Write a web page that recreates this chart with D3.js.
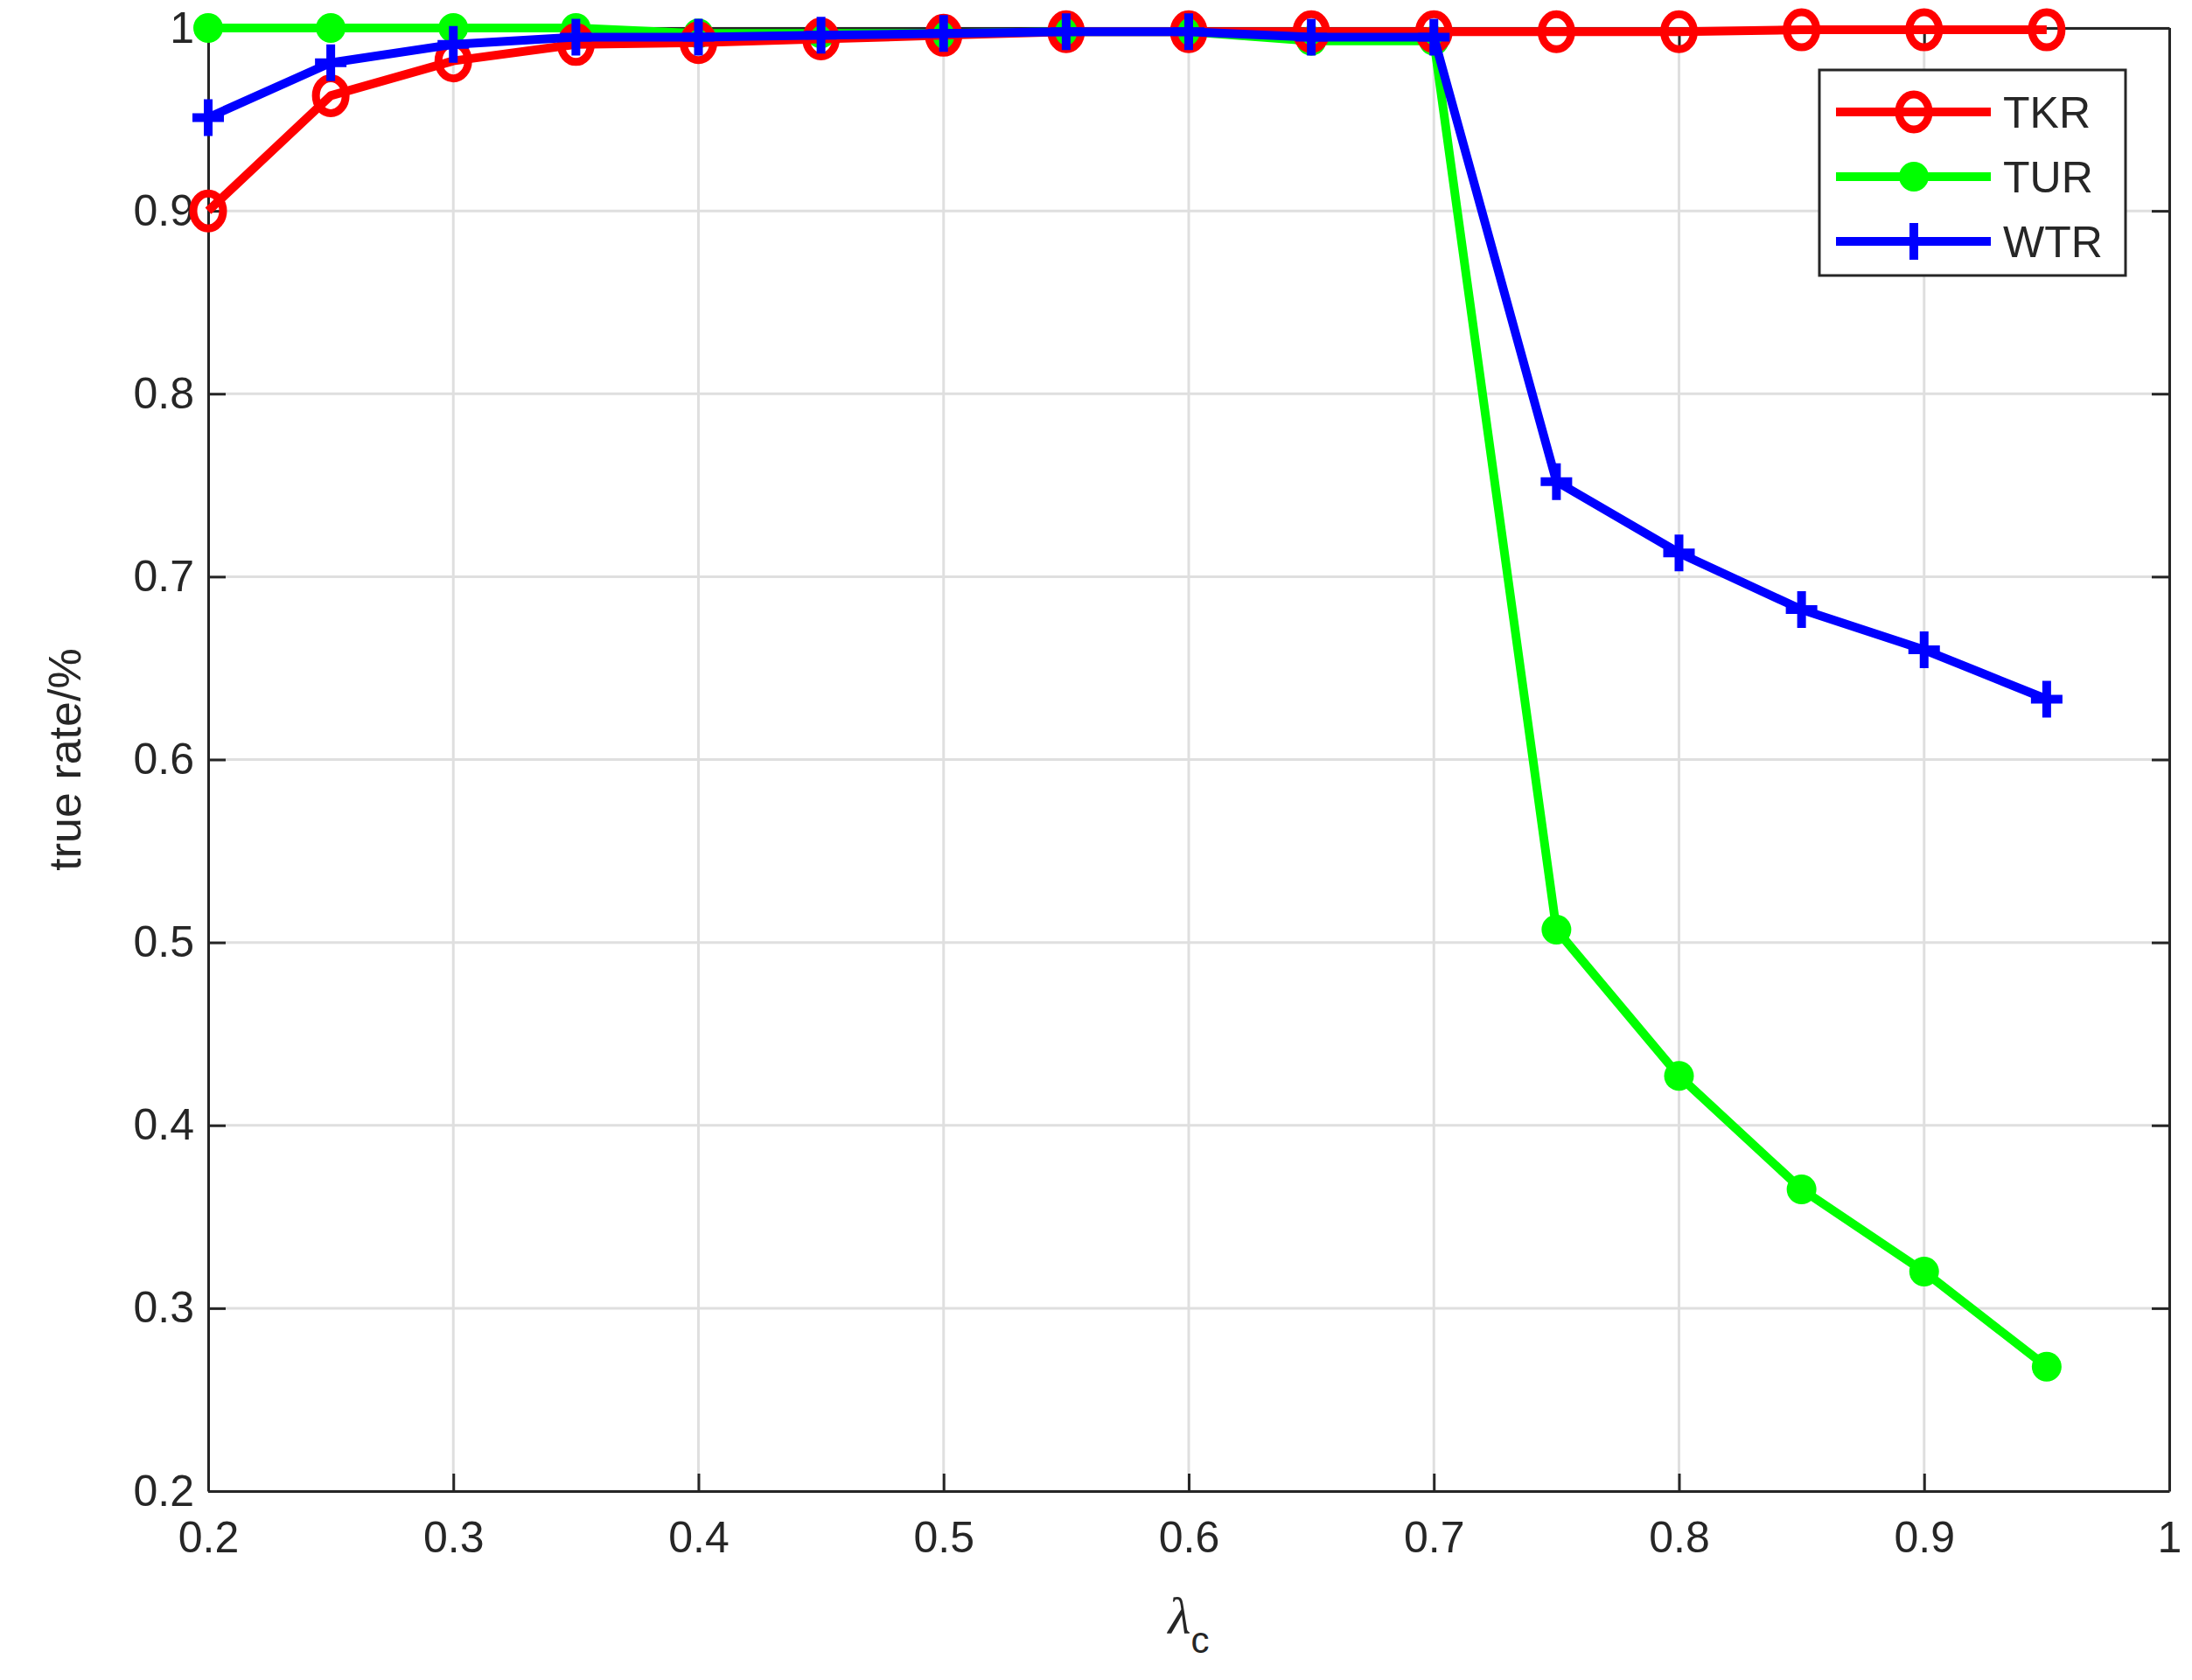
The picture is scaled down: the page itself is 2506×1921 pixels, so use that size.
<!DOCTYPE html>
<html><head><meta charset="utf-8">
<script src="https://cdn.jsdelivr.net/npm/d3@7"></script>
<style>body{margin:0;background:#fff}text{font-family:"Liberation Sans",Arial,sans-serif;fill:#262626}</style>
</head><body><div id="chart-area"></div>
<script>
var lambdas=[0.2,0.25,0.3,0.35,0.4,0.45,0.5,0.55,0.6,0.65,0.7,0.75,0.8,0.85,0.9,0.95];
var tkr=[0.9,0.963,0.982,0.991,0.992,0.994,0.996,0.998,0.998,0.998,0.998,0.998,0.998,0.999,0.999,0.999];
var tur=[1,1,1,1,0.997,0.997,0.997,0.998,0.998,0.993,0.993,0.507,0.427,0.365,0.32,0.268];
var wtr=[0.951,0.981,0.991,0.995,0.995,0.996,0.997,0.998,0.998,0.995,0.995,0.752,0.713,0.682,0.66,0.633];
var xTicks=[0.2,0.3,0.4,0.5,0.6,0.7,0.8,0.9,1];
var yTicks=[0.2,0.3,0.4,0.5,0.6,0.7,0.8,0.9,1];

var W=2506,H=1921,L=238,R=2480,T=32,B=1705;
var svg=d3.select("#chart-area").append("svg").attr("width",W).attr("height",H);
var x=d3.scaleLinear().domain([0.2,1]).range([L,R]);
var y=d3.scaleLinear().domain([0.2,1]).range([B,T]);

// grid
svg.append("g").selectAll("line").data(xTicks).enter().append("line")
	.attr("x1",d=>x(d)).attr("x2",d=>x(d)).attr("y1",T).attr("y2",B)
	.attr("stroke","#dfdfdf").attr("stroke-width",3);
svg.append("g").selectAll("line").data(yTicks).enter().append("line")
	.attr("y1",d=>y(d)).attr("y2",d=>y(d)).attr("x1",L).attr("x2",R)
	.attr("stroke","#dfdfdf").attr("stroke-width",3);

// axes
var fmt=d=>d===1?"1":d3.format(".1f")(d);
var ax=svg.append("g").attr("transform","translate(0,"+B+")")
	.call(d3.axisBottom(x).tickValues(xTicks).tickFormat(fmt).tickSizeInner(-20).tickSizeOuter(0).tickPadding(34));
var ay=svg.append("g").attr("transform","translate("+L+",0)")
	.call(d3.axisLeft(y).tickValues(yTicks).tickFormat(fmt).tickSizeInner(-20).tickSizeOuter(0).tickPadding(16));
svg.append("g").attr("transform","translate(0,"+T+")")
	.call(d3.axisTop(x).tickValues(xTicks).tickFormat("").tickSizeInner(-20).tickSizeOuter(0));
svg.append("g").attr("transform","translate("+R+",0)")
	.call(d3.axisRight(y).tickValues(yTicks).tickFormat("").tickSizeInner(-20).tickSizeOuter(0));
svg.selectAll(".domain").attr("stroke","#262626").attr("stroke-width",3);
svg.selectAll(".tick line").attr("stroke","#262626").attr("stroke-width",3);
svg.selectAll(".tick text").attr("font-size",50).attr("fill","#262626").style("font-family","Liberation Sans, Arial, sans-serif");

// labels
svg.append("text").attr("transform","translate(92,"+((T+B)/2)+") rotate(-90)")
	.attr("text-anchor","middle").attr("font-size",52).text("true rate/%");
var xl=svg.append("text").attr("x",(L+R)/2).attr("y",1868).attr("text-anchor","middle").attr("font-size",60);
xl.append("tspan").attr("font-style","italic").attr("font-family","Liberation Serif, serif").text("λ");
xl.append("tspan").attr("dy",22).attr("font-size",42).text("c");

var series=[
	{name:"TUR",vals:tur,color:"#00ff00",marker:"dot"},
	{name:"TKR",vals:tkr,color:"#ff0000",marker:"circle"},
	{name:"WTR",vals:wtr,color:"#0000ff",marker:"plus"}
];
var line=d3.line().x((d,i)=>x(lambdas[i])).y(d=>y(d));

function drawMarker(g,type,color,cx,cy){
	if(type==="circle"){
		g.append("ellipse").attr("cx",cx).attr("cy",cy).attr("rx",17).attr("ry",20)
			.attr("fill","none").attr("stroke",color).attr("stroke-width",9);
	}else if(type==="dot"){
		g.append("circle").attr("cx",cx).attr("cy",cy).attr("r",17).attr("fill",color);
	}else{
		g.append("path").attr("d","M"+(cx-18)+","+cy+"H"+(cx+18)+"M"+cx+","+(cy-21)+"V"+(cy+21))
			.attr("stroke",color).attr("stroke-width",10);
	}
}

series.forEach(function(s){
	var g=svg.append("g");
	g.append("path").datum(s.vals).attr("d",line).attr("fill","none")
		.attr("stroke",s.color).attr("stroke-width",10).attr("stroke-linejoin","round");
	s.vals.forEach(function(v,i){drawMarker(g,s.marker,s.color,x(lambdas[i]),y(v));});
});

// legend
var lg=svg.append("g");
lg.append("rect").attr("x",2080).attr("y",80).attr("width",350).attr("height",235)
	.attr("fill","#fff").attr("stroke","#262626").attr("stroke-width",3);
["TKR","TUR","WTR"].forEach(function(n,i){
	var s=series.find(d=>d.name===n), yy=128+i*74;
	lg.append("line").attr("x1",2099).attr("x2",2276).attr("y1",yy).attr("y2",yy)
		.attr("stroke",s.color).attr("stroke-width",10);
	drawMarker(lg,s.marker,s.color,2188,yy);
	lg.append("text").attr("x",2290).attr("y",yy+18).attr("font-size",50).attr("fill","#000").text(n);
});
</script></body></html>
